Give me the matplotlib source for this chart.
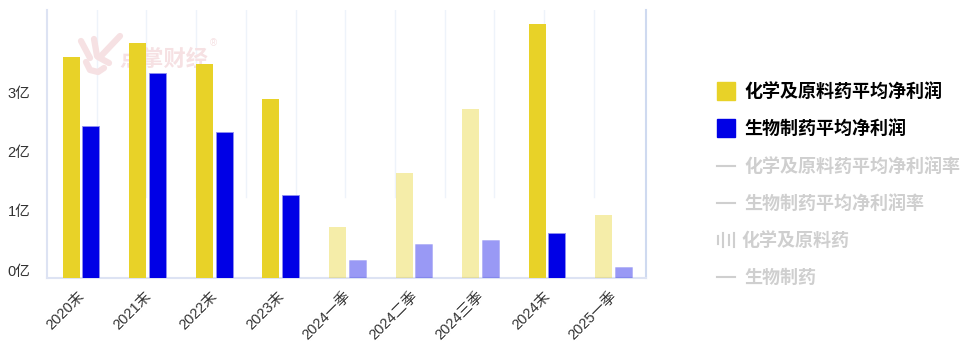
import matplotlib
matplotlib.use('Agg')
import matplotlib.pyplot as plt
from matplotlib.patches import Rectangle
from matplotlib.lines import Line2D
from matplotlib.transforms import ScaledTranslation
import numpy as np

plt.rcParams['font.family'] = ['Liberation Sans', 'Noto Sans CJK SC', 'DejaVu Sans']

# 数据
categories = ['2020末', '2021末', '2022末', '2023末', '2024一季', '2024二季', '2024三季', '2024末', '2025一季']
chem_profit = [3.71, 3.94, 3.59, 3.00, 0.85, 1.76, 2.83, 4.26, 1.05]
bio_profit = [2.55, 3.44, 2.45, 1.39, 0.30, 0.56, 0.63, 0.75, 0.18]
faded = [False, False, False, False, True, True, True, False, True]
y_ticks = [0, 1, 2, 3]
y_labels = ['0亿', '1亿', '2亿', '3亿']
legend_bars = ['化学及原料药平均净利润', '生物制药平均净利润']
legend_off = ['化学及原料药平均净利润率', '生物制药平均净利润率', '化学及原料药', '生物制药']

W, H = 969, 359
YELLOW = '#E8D228'
BLUE = '#0000E6'
AXIS = '#DDE3F3'
GREY = '#CFCFCF'
MARK = '#F6E1E3'


def px(x, y):
    return x / W, 1 - y / H


fig = plt.figure(figsize=(W / 100, H / 100), dpi=100)
ax = fig.add_axes([47 / W, 1 - 277.5 / H, 599 / W, 267.5 / H])
x = np.arange(len(categories))
ax.set_xlim(-0.5, len(categories) - 0.5)
ax.set_ylim(0, 4.5)

# 柱子
w = 0.255
for i in x:
    a = 0.4 if faded[i] else 1
    ax.bar(i - 0.135, chem_profit[i], w, color=YELLOW, alpha=a, zorder=3)
    ax.bar(i + 0.16, bio_profit[i], w, color=BLUE, alpha=a, edgecolor='#9090F0', linewidth=0.6, zorder=3)

# 竖网格
for k in range(1, 12):
    ax.axvline(-0.5 + 0.747 * k, ymin=0.30, color='#EEF3FA', lw=1, zorder=1)

ax.spines['left'].set_color(AXIS)
ax.spines['right'].set_color('#CFDAF0')
ax.spines['bottom'].set_color(AXIS)
for s in ['left', 'right', 'bottom']:
    ax.spines[s].set_linewidth(1.5)
ax.spines['top'].set_visible(False)
ax.tick_params(length=0)

ax.set_yticks(y_ticks)
ax.set_yticklabels(y_labels, fontsize=10.5, color='#333333', va='bottom')
ax.tick_params(axis='y', pad=12)
ax.set_xticks(x)
ax.set_xticklabels(categories, fontsize=10.5, color='#333333', rotation=45, ha='right', rotation_mode='anchor')
ax.tick_params(axis='x', pad=8)
shift_y = ScaledTranslation(0, -1 / 72, fig.dpi_scale_trans)
for t in ax.get_yticklabels():
    t.set_transform(t.get_transform() + shift_y)
shift_x = ScaledTranslation(-2 / 72, 0, fig.dpi_scale_trans)
for t in ax.get_xticklabels():
    t.set_transform(t.get_transform() + shift_x)

# 水印, 在柱子后面
ax.text(*px(119, 60), '点掌财经', transform=fig.transFigure, fontsize=16, color=MARK, weight='bold',
        ha='left', va='center', zorder=2)
ax.text(*px(213, 43), '®', transform=fig.transFigure, fontsize=7, color=MARK, ha='center', va='center', zorder=2)
hand = [[(81, 41), (90, 58)], [(94, 39), (97, 56)], [(120, 36), (101, 56)],
        [(109, 63), (98, 57)], [(86, 62), (90, 70), (98, 72), (104, 68)]]
for seg in hand:
    xs = [px(*p)[0] for p in seg]
    ys = [px(*p)[1] for p in seg]
    ax.add_line(Line2D(xs, ys, transform=fig.transFigure, color=MARK, lw=4.5, solid_capstyle='round', zorder=2))

# 图例
for label, col, y in zip(legend_bars, [YELLOW, BLUE], [91, 128]):
    fig.add_artist(Rectangle(px(717, y + 9), 18 / W, 18 / H, color=col, transform=fig.transFigure))
    fig.text(*px(744.5, y + 1), label, fontsize=13, weight='bold', color='black', va='center')
for label, y, tx in zip(legend_off, [166, 203, 240, 277], [744.5, 744.5, 741, 744.5]):
    if label == '化学及原料药':
        for mx, half in zip([718, 723, 729, 734], [4, 7, 5, 7]):
            fig.add_artist(Line2D([mx / W, mx / W], [1 - (y - half) / H, 1 - (y + half) / H], color=GREY, lw=1.5))
    else:
        fig.add_artist(Line2D([717 / W, 735 / W], [1 - y / H] * 2, color=GREY, lw=1.5))
    fig.text(*px(tx, y + 1), label, fontsize=13, weight='bold', color=GREY, va='center')

fig.savefig('out.png', dpi=100)
